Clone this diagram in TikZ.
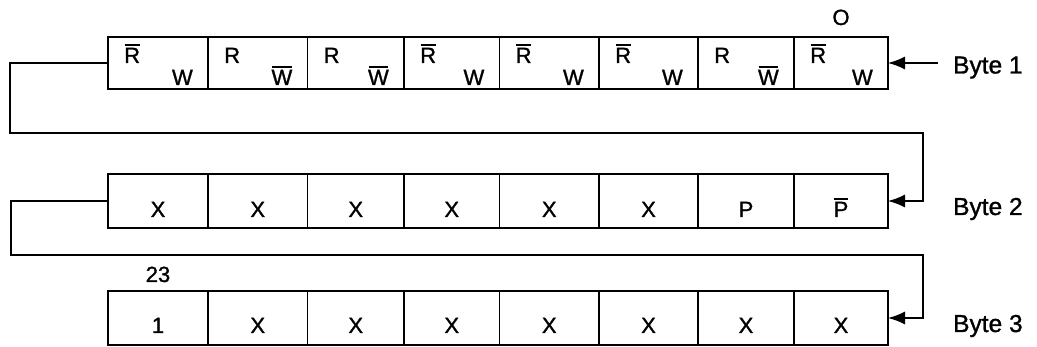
\documentclass[tikz,border=0pt]{standalone}
\usepackage{fontspec}
\setmainfont{Liberation Sans}[FakeBold=1.2]
\usetikzlibrary{arrows.meta,calc}
\newcommand\barred[1]{\leavevmode\setbox0\hbox{#1}\rlap{\hspace{0.5pt}\raisebox{\dimexpr\ht0+2pt\relax}{\rule{\dimexpr\wd0-1pt\relax}{1.6pt}}}\box0}
\newcommand\Rb{\barred{R}}
\newcommand\Wb{\barred{W}}
\newcommand\Pb{\barred{P}}
\tikzset{
  cell/.style={draw, line width=1.4pt, inner sep=0pt, outer sep=0pt, anchor=north west},
  celltxt/.style={inner sep=0pt, font=\fontsize{22}{24}\selectfont},
  bytetxt/.style={inner sep=0pt, anchor=base west, font=\fontsize{24.5}{28}\selectfont},
  arr/.style={line width=1.4pt, -{Latex[length=17pt,width=13pt]}}
}
\begin{document}
\begin{tikzpicture}[x=1pt,y=-1pt]
\useasboundingbox (0,0) rectangle (1037,347);
% cells
\foreach \l/\r [count=\i] in {108/208,208/307.5,307.5/404,404/499.5,499.5/599,599/698,698/794,794/888}{
  \node[cell, minimum width={(\r-\l)*1pt}, minimum height=52pt] (a\i) at (\l,37) {};
  \node[cell, minimum width={(\r-\l)*1pt}, minimum height=54pt] (b\i) at (\l,174) {};
  \node[cell, minimum width={(\r-\l)*1pt}, minimum height=54pt] (c\i) at (\l,291) {};
}
% byte 1 texts
\foreach \i/\rt/\wt in {1/\Rb/W,2/R/\Wb,3/R/\Wb,4/\Rb/W,5/\Rb/W,6/\Rb/W,7/R/\Wb,8/\Rb/W}{
  \node[celltxt, anchor=base west] (ra\i) at ($(a\i.north west)+(16,26)$) {\rt};
  \node[celltxt, anchor=base east] (wa\i) at ($(a\i.north east)+(-15,48)$) {\wt};
}
% byte 2 texts
\foreach \i/\t in {1/X,2/X,3/X,4/X,5/X,6/X,7/P,8/\Pb}{
  \node[celltxt, anchor=base] (tb\i) at ($(b\i.north)+(0,43)$) {\t};
}
% byte 3 texts
\foreach \i/\t in {1/1,2/X,3/X,4/X,5/X,6/X,7/X,8/X}{
  \node[celltxt, anchor=base] (tc\i) at ($(c\i.north)+(0,42)$) {\t};
}
% bit numbers
\node[celltxt, anchor=base] (bit0) at ($(a8.north)+(0,-12)$) {O};
\node[celltxt, anchor=base] (bit23) at ($(c1.north)+(0,-9)$) {23};
% byte labels
\node[bytetxt] (by1) at (953,73.5) {Byte 1};
\node[bytetxt] (by2) at (953,215) {Byte 2};
\node[bytetxt] (by3) at (953,332) {Byte 3};
% connectors
\coordinate (s1) at (938,63);
\coordinate (L1) at (10,133);
\coordinate (R1) at (923,133);
\coordinate (L2) at (11,255);
\coordinate (R2) at (923,255);
\draw[arr] (s1) -- (a8.east);
\draw[arr] (a1.west) -| (L1) -- (R1) |- (b8.east);
\draw[arr] (b1.west) -| (L2) -- (R2) |- (c8.east);
\end{tikzpicture}
\end{document}
